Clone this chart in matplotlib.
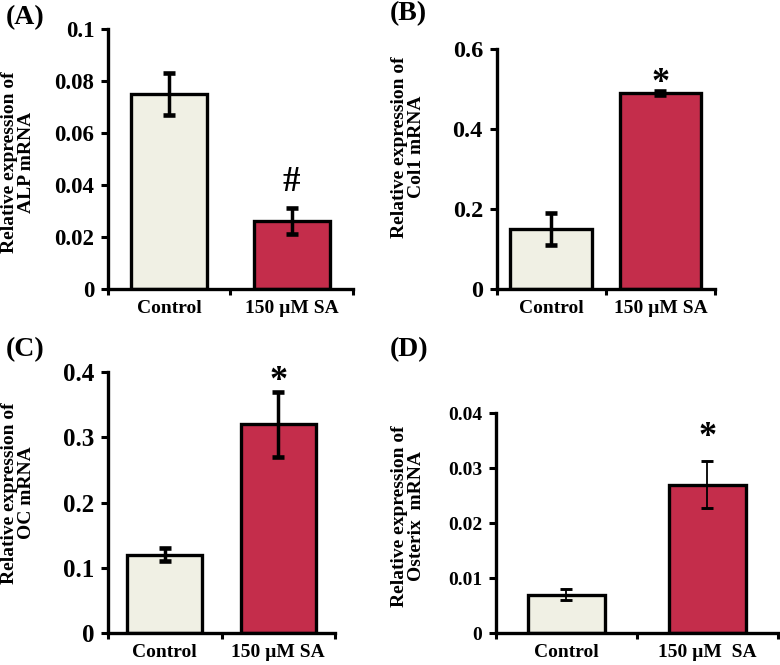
import matplotlib
matplotlib.use('Agg')
import matplotlib.pyplot as plt
import numpy as np

plt.rcParams['font.family'] = ['Liberation Serif', 'DejaVu Serif']
plt.rcParams['font.weight'] = 'bold'

groups = ['Control', '150 \u00b5M SA']
groups_d = ['Control', '150 \u00b5M  SA']

alp = [0.075, 0.026]
alp_err = [0.008, 0.005]
col1 = [0.15, 0.49]
col1_err = [0.04, 0.006]
oc = [0.12, 0.32]
oc_err = [0.01, 0.05]
osx = [0.007, 0.027]
osx_err = [0.001, 0.0042]

colors = ['#F0F0E4', '#C42D4B']

fig = plt.figure(figsize=(7.8, 6.65), dpi=100)

# rect, data, errors, ylim, yticks, labels, tick fontsize, bar width, err lw, xlabels,
# ylabel, ylabel pos (px), mark, mark y, mark size, panel tag, tag pos (px)
panels = [
    ([0.1385, 0.5654, 0.314, 0.391], alp, alp_err, 0.1, [0, 0.02, 0.04, 0.06, 0.08, 0.1],
     ['0', '0.02', '0.04', '0.06', '0.08', '0.1'], 16.5, 0.62, 2.5, groups,
     'Relative expression of\nALP mRNA', (18, 162), '#', 0.041, 25, '(A)', (6, 18)),
    ([0.637, 0.5654, 0.2797, 0.3609], col1, col1_err, 0.6, [0, 0.2, 0.4, 0.6],
     ['0', '0.2', '0.4', '0.6'], 17.5, 0.75, 2.5, groups,
     'Relative expression of\nCol1 mRNA', (408, 147), '*', 0.515, 26, '(B)', (390, 14)),
    ([0.1385, 0.0481, 0.291, 0.3925], oc, oc_err, 0.4, [0, 0.1, 0.2, 0.3, 0.4],
     ['0', '0.1', '0.2', '0.3', '0.4'], 18, 0.66, 2.5, groups,
     'Relative expression of\nOC mRNA', (18, 493), '*', 0.385, 26, '(C)', (6, 350)),
    ([0.6359, 0.0481, 0.3615, 0.3308], osx, osx_err, 0.04, [0, 0.01, 0.02, 0.03, 0.04],
     ['0', '0.01', '0.02', '0.03', '0.04'], 14, 0.55, 1.3, groups_d,
     'Relative expression of\nOsterix  mRNA', (408, 516), '*', 0.0355, 26, '(D)', (390, 350)),
]

W, H = 780.0, 665.0
for (rect, vals, errs, ymax, yt, ytl, fs, bw, elw, xl, ylab, ylpos, mark, marky, mfs, tag, tagpos) in panels:
    ax = fig.add_axes(rect)
    x = np.arange(len(vals))
    ax.bar(x, vals, width=bw, color=colors, edgecolor='black', linewidth=2.4, zorder=2)
    ax.errorbar(x, vals, yerr=errs, fmt='none', ecolor='black', elinewidth=elw,
                capsize=4, capthick=elw + 0.8, zorder=3)
    ax.set_xlim(-0.5, 1.5)
    ax.set_ylim(0, ymax)
    ax.set_yticks(yt)
    ax.set_yticklabels(ytl, fontsize=fs, fontweight='bold')
    ax.set_xticks([-0.5, 0.5, 1.5])
    ax.set_xticklabels([])
    ax.set_xticks(x, minor=True)
    ax.set_xticklabels(xl, minor=True, fontsize=14, fontweight='bold')
    ax.tick_params(axis='x', which='minor', length=0, pad=8)
    ax.tick_params(axis='x', which='major', length=4, width=2.2, direction='out')
    ax.tick_params(axis='y', length=5, width=2.2, direction='out', pad=5)
    for s in ['top', 'right']:
        ax.spines[s].set_visible(False)
    for s in ['left', 'bottom']:
        ax.spines[s].set_linewidth(2.4)
    ax.text(1, marky, mark, ha='center', va='center', fontsize=mfs, fontweight='bold')
    fig.text(ylpos[0] / W, 1 - ylpos[1] / H, ylab, rotation=90, ha='center', va='center',
             fontsize=14, fontweight='bold', linespacing=1.0)
    fig.text(tagpos[0] / W, 1 - tagpos[1] / H, tag, ha='left', va='center',
             fontsize=20, fontweight='bold')

fig.savefig('out.png', dpi=100)
